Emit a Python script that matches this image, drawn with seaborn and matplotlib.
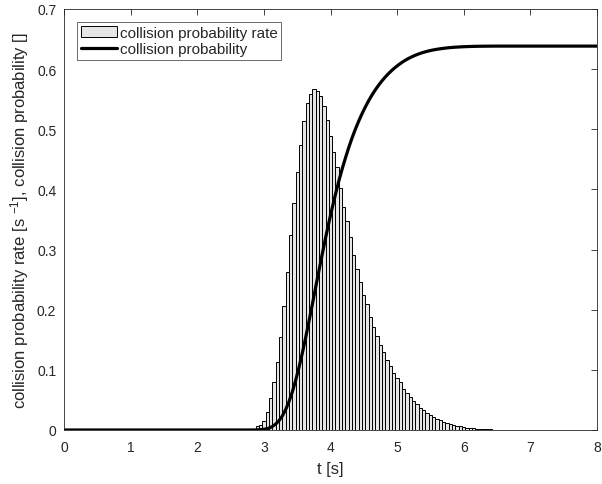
import numpy as np
import pandas as pd
import matplotlib
matplotlib.use('Agg')
import matplotlib.pyplot as plt
import seaborn as sns

# histogram of collision probability rate, bin width 0.05 s, first bin centred at 2.85 s
bin_width = 0.05
first_center = 2.85
rate = [
    0.002, 0.006, 0.008, 0.015, 0.030, 0.053, 0.079, 0.113, 0.155, 0.207,
    0.263, 0.324, 0.378, 0.429, 0.474, 0.513, 0.544, 0.559, 0.567,
    0.564, 0.556, 0.538, 0.515, 0.489, 0.462,
    0.437, 0.402, 0.371, 0.347, 0.321, 0.291, 0.268, 0.246, 0.225, 0.209,
    0.188, 0.171, 0.156, 0.142, 0.129, 0.116, 0.106, 0.095, 0.087, 0.079,
    0.069, 0.062, 0.055, 0.049, 0.043, 0.037, 0.033, 0.029, 0.025, 0.021,
    0.018, 0.016, 0.014, 0.012, 0.010, 0.008, 0.007, 0.006, 0.005, 0.004,
    0.0033, 0.0028, 0.0022, 0.0017, 0.0014, 0.0011, 0.0009, 0.0007,
]
t_min, t_max = 0, 8
x_ticks = [0, 1, 2, 3, 4, 5, 6, 7, 8]
y_ticks = [0, 0.1, 0.2, 0.3, 0.4, 0.5, 0.6, 0.7]

rate = np.array(rate)
n = len(rate)
edges = first_center - bin_width / 2 + bin_width * np.arange(n + 1)
centers = edges[:-1] + bin_width / 2
df = pd.DataFrame({'t': centers, 'rate': rate})

# collision probability = integral of the rate
cum = np.concatenate([[0.0], np.cumsum(rate) * bin_width])
curve = pd.DataFrame({
    't': np.concatenate([[t_min], edges, [t_max]]),
    'p': np.concatenate([[0.0], cum, [cum[-1]]]),
})

sns.set_theme(style='white')
plt.rcParams['font.family'] = ['Liberation Sans', 'DejaVu Sans']
plt.rcParams['mathtext.fontset'] = 'custom'
plt.rcParams['mathtext.rm'] = 'Liberation Sans'
plt.rcParams['mathtext.it'] = 'Liberation Sans'

W, H = 602, 485
fig = plt.figure(figsize=(W / 100, H / 100), dpi=100)
ax = fig.add_axes([64 / W, (H - 431) / H, 533 / W, 421 / H])

sns.histplot(data=df, x='t', weights='rate', bins=edges.tolist(), stat='count',
             color='#e6e6e6', edgecolor='black', linewidth=0.7, alpha=1,
             ax=ax, label='collision probability rate')
sns.lineplot(data=curve, x='t', y='p', color='black', linewidth=2.3,
             ax=ax, label='collision probability')

ax.set_xlim(t_min, t_max)
ax.set_ylim(0, 0.7)
ax.set_xticks(x_ticks)
ax.set_yticks(y_ticks)
ax.set_xticklabels([str(v) for v in x_ticks])
ax.set_yticklabels(['0'] + [f'{v:.1f}' for v in y_ticks[1:]])
ax.tick_params(direction='in', length=4, width=0.6, top=True, right=True,
               labelsize=10, colors='#262626')
ax.tick_params(axis='x', pad=7)
ax.tick_params(axis='y', pad=5.5)
for s in ax.spines.values():
    s.set_linewidth(0.6)
    s.set_color('#262626')

ax.set_xlabel('t [s]', fontsize=12, color='#262626', va='top')
ax.xaxis.set_label_coords(0.5, (431 - 462) / 421)
ax.set_ylabel(r'collision probability rate [s $^{-1}$], collision probability []',
              fontsize=12, color='#262626')
ax.yaxis.set_label_coords((31 - 64) / 533, 0.5)

handles, labels = ax.get_legend_handles_labels()
order = [labels.index('collision probability rate'), labels.index('collision probability')]
leg = ax.legend([handles[i] for i in order], [labels[i] for i in order],
                loc='upper left', fontsize=11, frameon=True, fancybox=False,
                edgecolor='#262626', borderpad=0.25, handlelength=2.35,
                labelspacing=0.15, handletextpad=0.2, borderaxespad=0.85)
leg.get_frame().set_linewidth(0.6)

fig.savefig('out.png', dpi=100)
